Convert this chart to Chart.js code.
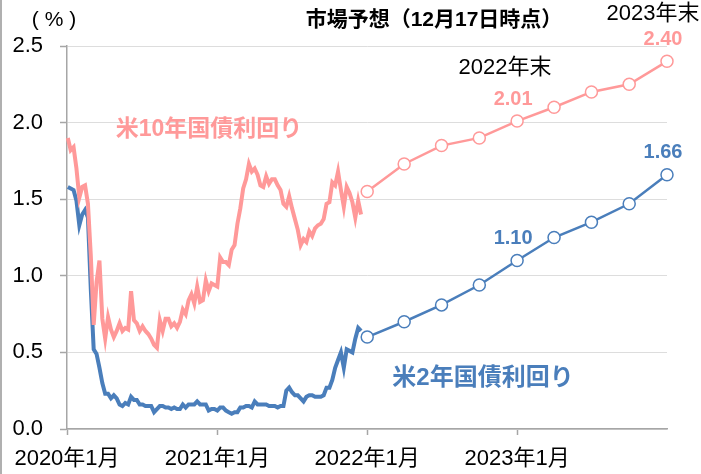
<!DOCTYPE html>
<html><head><meta charset="utf-8">
<script src="https://cdn.jsdelivr.net/npm/chart.js@4/dist/chart.umd.min.js"></script>
<style>html,body{margin:0;padding:0;background:#fff}canvas{display:block}</style>
</head><body>
<canvas id="c" width="701" height="474"></canvas>
<script>
// ---- data ----
// historical weekly observations (Fridays), day index counted from 2020-01-01
const histStartDay = 2;
const histStepDays = 7;
const us10yHist = [
 1.90,1.82,1.84,1.70,1.51,1.58,1.59,1.47,1.13,0.68,0.96,1.10,0.72,0.59,0.73,0.65,0.60,0.64,0.69,0.64,
 0.66,0.65,0.90,0.71,0.69,0.64,0.67,0.64,0.62,0.59,0.55,0.53,0.71,0.64,0.72,0.72,0.67,0.69,0.66,0.70,
 0.78,0.75,0.84,0.88,0.82,0.93,0.83,0.84,0.97,0.90,0.95,0.94,
 0.93,1.12,1.09,1.09,1.07,1.17,1.20,1.34,1.44,1.57,1.63,1.73,1.68,1.70,1.66,1.59,1.58,1.65,1.60,1.63,
 1.63,1.59,1.56,1.47,1.45,1.52,1.44,1.37,1.30,1.20,1.24,1.22,1.29,1.26,1.31,1.33,1.34,1.37,1.47,1.48,
 1.61,1.59,1.68,1.56,1.45,1.58,1.54,1.48,1.38,1.49,1.40
];
const us2yHist = [
 1.58,1.57,1.56,1.49,1.33,1.40,1.43,1.38,0.91,0.52,0.49,0.40,0.30,0.23,0.23,0.20,0.22,0.20,0.16,0.15,
 0.17,0.16,0.21,0.19,0.19,0.16,0.16,0.15,0.15,0.15,0.11,0.13,0.15,0.15,0.14,0.14,0.13,0.14,0.13,0.13,
 0.16,0.14,0.16,0.16,0.16,0.18,0.16,0.16,0.16,0.12,0.13,0.13,
 0.12,0.14,0.14,0.12,0.11,0.10,0.11,0.11,0.14,0.14,0.15,0.15,0.14,0.18,0.16,0.16,0.16,0.16,0.15,0.15,
 0.15,0.14,0.15,0.15,0.25,0.27,0.24,0.22,0.22,0.20,0.18,0.21,0.22,0.22,0.21,0.21,0.21,0.22,0.27,0.27,
 0.32,0.40,0.45,0.50,0.40,0.52,0.51,0.50,0.59,0.66,0.64
];
// market forecast (as of Dec 17), quarterly
const forecastDays = [731, 821, 912, 1004, 1096, 1186, 1277, 1369, 1461];
const us10yForecast = [1.55, 1.73, 1.85, 1.90, 2.01, 2.10, 2.20, 2.25, 2.40];
const us2yForecast  = [0.60, 0.70, 0.81, 0.94, 1.10, 1.25, 1.35, 1.47, 1.66];
const labeledForecastIdx = [4, 8];
const xTickDays = [0, 366, 731, 1096];
const xTickLabels = ['2020年1月', '2021年1月', '2022年1月', '2023年1月'];
const yTickValues = [0, 0.5, 1.0, 1.5, 2.0, 2.5];

// ---- styling ----
const PINK = '#FF9999';
const BLUE = '#4A7EBB';
const FONT = '"Liberation Sans", "Noto Sans CJK JP", sans-serif';
const AXIS = '#A6A6A6';

const toPts = (vals, days) => vals.map((v, i) => ({x: days ? days[i] : histStartDay + i * histStepDays, y: v}));

const textPlugin = {
  id: 'texts',
  afterDatasetsDraw(chart) {
    const ctx = chart.ctx;
    const xs = chart.scales.x, ys = chart.scales.y;
    ctx.save();
    ctx.textBaseline = 'middle';
    ctx.textAlign = 'center';
    // value labels
    ctx.font = 'bold 20px ' + FONT;
    labeledForecastIdx.forEach(i => {
      ctx.fillStyle = PINK;
      ctx.fillText(us10yForecast[i].toFixed(2), xs.getPixelForValue(forecastDays[i]) - 4, ys.getPixelForValue(us10yForecast[i]) - 22);
      ctx.fillStyle = BLUE;
      ctx.fillText(us2yForecast[i].toFixed(2), xs.getPixelForValue(forecastDays[i]) - 4, ys.getPixelForValue(us2yForecast[i]) - 22);
    });
    // annotations
    ctx.fillStyle = '#000';
    ctx.font = '21px ' + FONT;
    ctx.fillText('( % )', 54, 20);
    ctx.font = 'bold 21px ' + FONT;
    ctx.fillText('市場予想（12月17日時点）', 434, 20);
    ctx.font = '22px ' + FONT;
    ctx.fillText('2023年末', 653, 14);
    ctx.fillText('2022年末', 505, 68);
    ctx.font = 'bold 23px ' + FONT;
    ctx.fillStyle = PINK;
    ctx.fillText('米10年国債利回り', 209, 130);
    ctx.fillStyle = BLUE;
    ctx.font = 'bold 24px ' + FONT;
    ctx.fillText('米2年国債利回り', 483, 378);
    ctx.restore();
  },
  beforeDraw(chart) {
    const ctx = chart.ctx;
    ctx.save();
    ctx.fillStyle = '#fff';
    ctx.fillRect(0, 0, chart.width, chart.height);
    ctx.fillStyle = '#B0B0B0';
    ctx.fillRect(0, 0, 2, chart.height);
    ctx.restore();
  }
};

new Chart(document.getElementById('c'), {
  type: 'line',
  data: {
    datasets: [
      {data: toPts(us10yHist), borderColor: PINK, borderWidth: 4, pointRadius: 0, tension: 0, clip: false},
      {data: toPts(us2yHist), borderColor: BLUE, borderWidth: 4, pointRadius: 0, tension: 0, clip: false},
      {data: toPts(us10yForecast, forecastDays), borderColor: PINK, borderWidth: 2.5, pointRadius: 6,
       pointBackgroundColor: '#fff', pointBorderColor: PINK, pointBorderWidth: 1.5, tension: 0, clip: false},
      {data: toPts(us2yForecast, forecastDays), borderColor: BLUE, borderWidth: 2.5, pointRadius: 6,
       pointBackgroundColor: '#fff', pointBorderColor: BLUE, pointBorderWidth: 1.5, tension: 0, clip: false}
    ]
  },
  options: {
    responsive: false,
    animation: false,
    events: [],
    layout: {padding: {top: 46, right: 34, left: 0, bottom: 0}},
    plugins: {legend: {display: false}, tooltip: {enabled: false}},
    scales: {
      x: {
        type: 'linear', min: 0, max: 1461,
        afterBuildTicks: s => { s.ticks = xTickDays.map(v => ({value: v})); },
        afterFit: s => { s.height = 45; },
        ticks: {
          autoSkip: false, maxRotation: 0, padding: 11, color: '#000',
          font: {family: FONT, size: 22},
          callback: (v) => { const i = xTickDays.indexOf(v); return i >= 0 ? xTickLabels[i] : ''; }
        },
        grid: {drawOnChartArea: false, tickLength: 6, tickColor: AXIS, tickWidth: 1.5},
        border: {color: AXIS, width: 1.5}
      },
      y: {
        min: 0, max: 2.5,
        afterBuildTicks: s => { s.ticks = yTickValues.map(v => ({value: v})); },
        afterFit: s => { s.width = 67; },
        ticks: {
          padding: 17, color: '#000',
          font: {family: FONT, size: 22},
          callback: v => v.toFixed(1)
        },
        grid: {color: '#DDDDDD', lineWidth: 1, borderDash: [3, 3], tickLength: 7, tickColor: AXIS, tickWidth: 1.5, tickBorderDash: []},
        border: {color: AXIS, width: 1.5}
      }
    }
  },
  plugins: [textPlugin]
});
</script>
</body></html>
